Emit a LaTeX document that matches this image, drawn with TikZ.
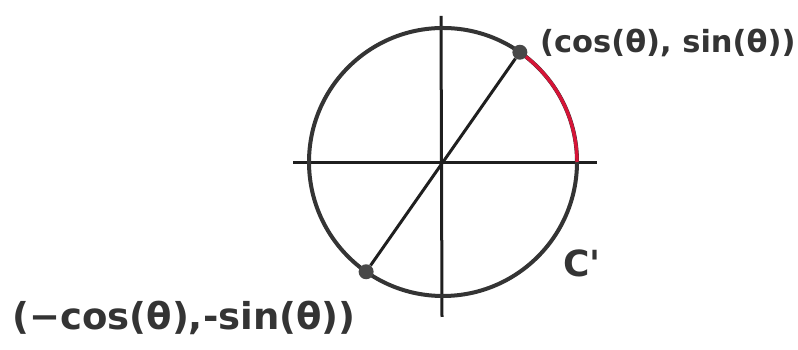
\documentclass[tikz,border=0pt]{standalone}
\usepackage{fontspec}
\setmainfont{DejaVu Sans}
\usetikzlibrary{calc}
\definecolor{inkc}{RGB}{52,52,52}
\definecolor{redc}{RGB}{214,20,55}
\begin{document}
\begin{tikzpicture}[x=1pt,y=1pt,
  ink/.style={draw=inkc, line width=4pt},
  thin/.style={draw=black!88, line width=3pt},
  redarc/.style={draw=redc, line width=3.4pt},
  dot/.style={circle, fill=inkc!90, inner sep=0pt, minimum size=15pt},
  lab/.style={text=inkc, inner sep=0pt, font=\bfseries}]
\useasboundingbox (0,0) rectangle (798,350);
\coordinate (O) at (443,188);
\coordinate (xl) at (293,187);
\coordinate (xr) at (597,187);
\coordinate (yt) at (441,334);
\coordinate (yb) at (442,33);
\draw[thin] (xl) -- (xr);
\draw[thin] (yt) -- (yb);
\draw[ink] (O) circle (134);
\draw[redarc] ($(O)+(0:134)$) arc[start angle=0, end angle=55, radius=134];
\node[dot] (P) at ($(O)+(55:134)$) {};
\node[dot] (Q) at ($(O)+(235:134)$) {};
\draw[thin] (P) -- (Q);
\node[lab, anchor=west, font=\bfseries\fontsize{30.5}{30.5}\selectfont] (lp) at (540,307) {(cos(θ), sin(θ))};
\node[lab, font=\bfseries\fontsize{37}{37}\selectfont] (lq) at (184,32) {(−cos(θ),-sin(θ))};
\node[lab, font=\bfseries\fontsize{36}{36}\selectfont] (lc) at (582,87) {C\textquotesingle};
\end{tikzpicture}
\end{document}
